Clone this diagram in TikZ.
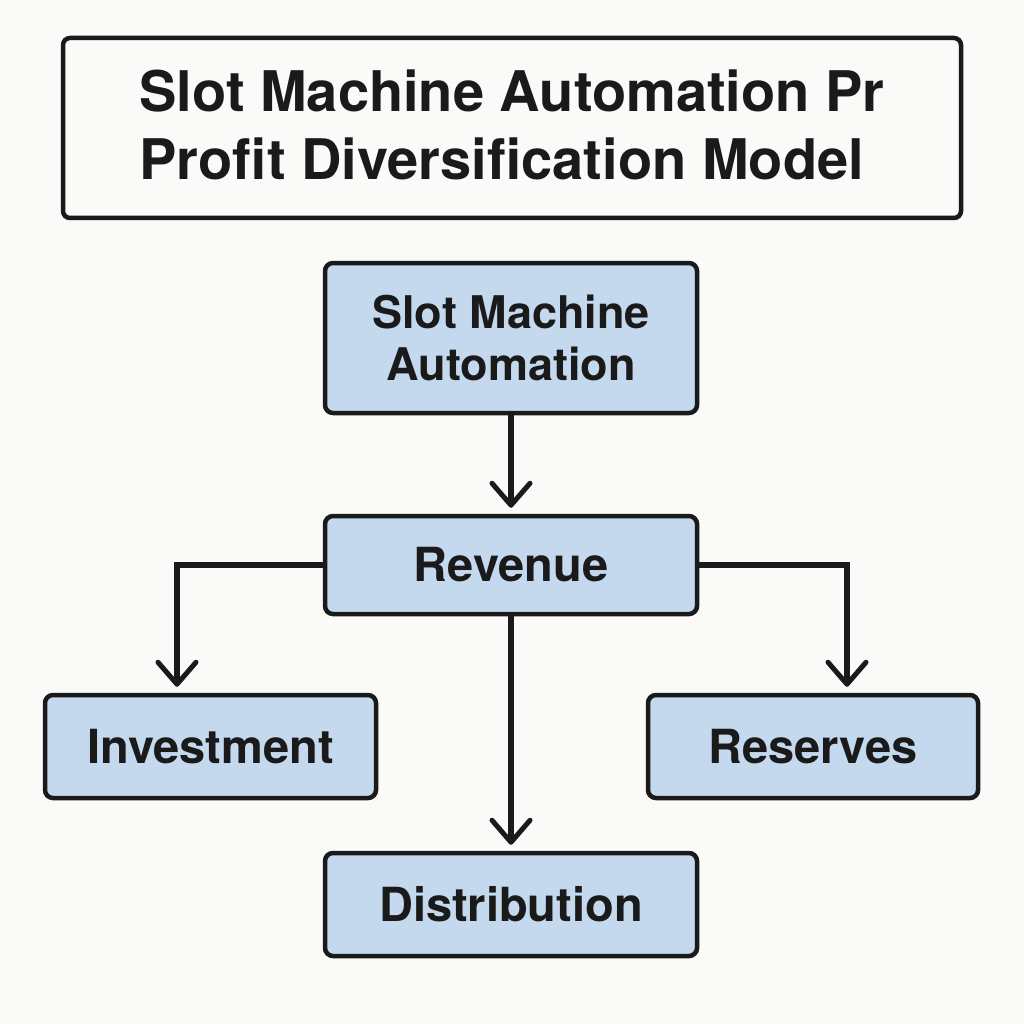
\documentclass[tikz,border=0pt]{standalone}
\usepackage{fontspec}
\setmainfont{TeX Gyre Heros}
\usetikzlibrary{arrows.meta}
\definecolor{bg}{HTML}{FAFAF8}
\definecolor{boxfill}{HTML}{C4D9EE}
\definecolor{ink}{HTML}{1A1A1A}
\tikzset{
  flowbox/.style={draw=ink, line width=4.5pt, fill=boxfill, rounded corners=8pt,
    inner sep=0pt, text=ink, font=\fontsize{47}{52}\selectfont\bfseries, align=center},
  conn/.style={draw=ink, line width=5.5pt},
  arr/.style={conn, -{Straight Barb[length=22pt,width=38pt,line width=5pt,line cap=round, line join=round]}, shorten >=6pt},
}
\begin{document}
\begin{tikzpicture}[x=1pt,y=-1pt]
\useasboundingbox[fill=bg] (0,0) rectangle (1024,1024);
\node[draw=ink, line width=4.5pt, fill=bg, rounded corners=7pt, minimum width=898pt, minimum height=180pt, inner sep=0pt] (title) at (512,128) {};
\node[text=ink, font=\fontsize{56}{68}\selectfont\bfseries, align=left, inner sep=0pt] (titletext) at (512,125)
  {Slot Machine Automation Pr\\Profit Diversification Model};
\node[flowbox, minimum width=372pt, minimum height=150pt, font=\fontsize{45}{52}\selectfont\bfseries] (auto) at (511,338) {Slot Machine\\Automation};
\node[flowbox, minimum width=372pt, minimum height=98pt] (rev) at (511,565) {Revenue};
\node[flowbox, minimum width=331pt, minimum height=103pt] (inv) at (210.5,746.5) {Investment};
\node[flowbox, minimum width=330pt, minimum height=103pt] (res) at (813,746.5) {Reserves};
\node[flowbox, minimum width=372pt, minimum height=103pt] (dist) at (511,904.5) {Distribution};
\draw[arr] (auto.south) -- (rev.north);
\draw[arr] (rev.west) -| (inv.north -| 177,0);
\draw[arr] (rev.east) -| (res.north -| 847,0);
\draw[arr] (rev.south) -- (dist.north);
\end{tikzpicture}
\end{document}
